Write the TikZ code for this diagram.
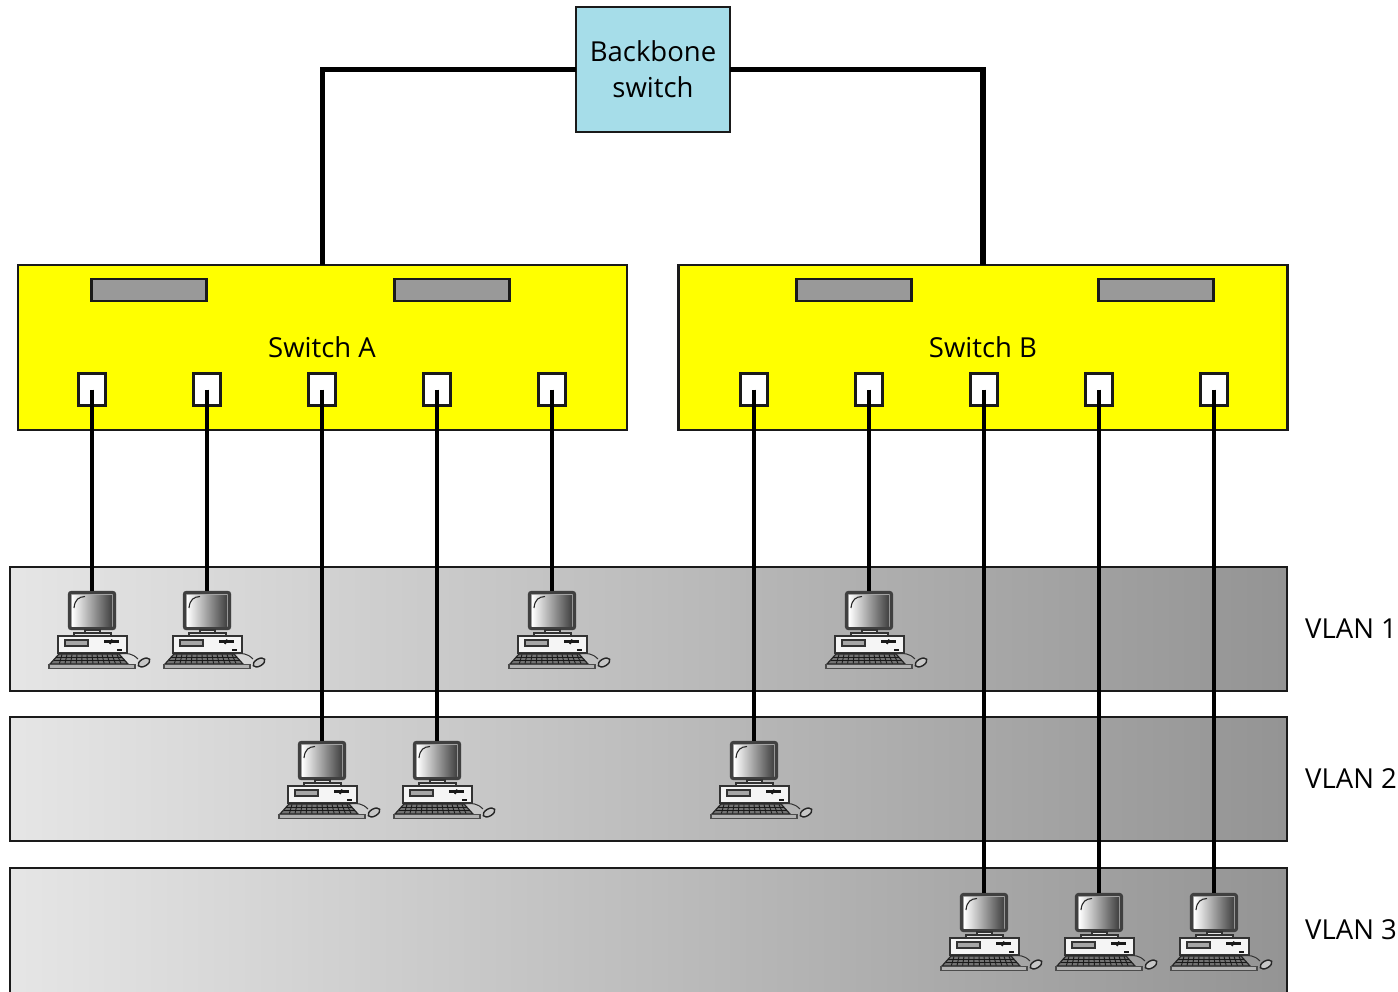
\documentclass[tikz,border=0pt]{standalone}
\usepackage{fontspec}
\setmainfont{Open Sans}
\definecolor{bbblue}{HTML}{A6DDE9}
\definecolor{swyellow}{HTML}{FFFF00}
\definecolor{bargray}{HTML}{999999}
\definecolor{edgegray}{HTML}{1A1A1A}
\tikzset{
  box/.style={draw=edgegray,line width=2.4pt,inner sep=0pt,outer sep=0pt,rectangle},
  strip/.style={box,minimum width=1277pt,left color=black!10,right color=black!42},
  switchbox/.style={box,fill=swyellow,minimum width=609pt,minimum height=165pt},
  backbone/.style={box,fill=bbblue,minimum width=154pt,minimum height=125pt,align=center,font=\fontsize{27.5}{36}\selectfont},
  bar/.style={box,fill=bargray,minimum width=115pt,minimum height=22pt},
  port/.style={box,line width=2.6pt,fill=white,minimum width=27pt,minimum height=32pt},
  lbl/.style={inner sep=0pt,font=\fontsize{27.5}{34}\selectfont},
  wire/.style={draw=black,line width=3.4pt},
  trunk/.style={draw=black,line width=5.4pt},
  pc/.pic={
    \coordinate (-top) at (0,0);
    % monitor
    \path[fill=black!30,rounded corners=1.5pt] (-24,0) rectangle (24,39);
    \draw[black!75,line width=3.2pt,rounded corners=2pt] (-22.5,1.5) rectangle (22.5,37.5);
    \path[left color=white,right color=black!75] (-20,4) rectangle (20,35);
    \draw[black!85,line width=1.1pt] (-18,17) .. controls (-17,8) and (-13,6) .. (-7,5.5);
    % stand
    \draw[black!80,line width=1.2pt,fill=black!10] (-7,39) rectangle (8,42);
    \draw[black!80,line width=1.2pt,fill=black!10] (-18,42) rectangle (19,45);
    % base
    \draw[black!80,line width=1.5pt,fill=black!4] (-34,45) rectangle (35,62);
    \draw[black!80,line width=1.2pt,fill=black!35] (-27,49) rectangle (-4,55);
    \draw[black!90,line width=2.2pt] (12,50.5) -- (27,50.5);
    \draw[black!90,line width=1.8pt] (20,48.5) -- (18,53);
    \fill[black!90] (25,60) rectangle (30,57.5);
    % keyboard
    \draw[black!85,line width=1.2pt,fill=black!55] (-33,63) -- (27,63) -- (36,73) -- (-42,73) -- cycle;
    \foreach \k in {-30,-25,...,25}
      \draw[black!90,line width=.9pt] (\k,63.5) -- (\k*1.12+1,72.5);
    \draw[black!90,line width=.9pt] (-36,66.5) -- (30,66.5);
    \draw[black!90,line width=.9pt] (-38,69.5) -- (33,69.5);
    \draw[black!70,line width=1.6pt,fill=black!30] (-43,73.5) -- (43,73.5) -- (43,77.5) -- (-43,77.5) -- cycle;
    % mouse
    \draw[black!80,line width=1pt] (27,63) .. controls (35,62) and (40,62) .. (46,68);
    \draw[black!85,line width=1.4pt,fill=black!22,rotate around={30:(52,71.5)}] (52,71.5) ellipse (6.5pt and 3.6pt);
  }
}
\begin{document}
\begin{tikzpicture}[x=1pt,y=-1pt]
\useasboundingbox (0,0) rectangle (1398,992);
\clip (0,0) rectangle (1398,992);
\fill[white] (0,0) rectangle (1398,992);

\node[strip,minimum height=124pt] (v1) at (648.5,629) {};
\node[strip,minimum height=124pt] (v2) at (648.5,779) {};
\node[strip,minimum height=144pt] (v3) at (648.5,940) {};
\node[lbl,anchor=west] (l1) at (1305,629) {VLAN 1};
\node[lbl,anchor=west] (l2) at (1305,779) {VLAN 2};
\node[lbl,anchor=west] (l3) at (1305,930) {VLAN 3};

\node[backbone] (bb) at (653,69.5) {Backbone\\switch};
\node[switchbox] (swA) at (322.5,347.5) {};
\node[switchbox] (swB) at (983,347.5) {};
\draw[trunk] (bb.west) -| (swA.north);
\draw[trunk] (bb.east) -| (swB.north);
\node[lbl] (tA) at (322,347) {Switch A};
\node[lbl] (tB) at (983,347) {Switch B};

\node[bar] (barA1) at (149,290) {};
\node[bar] (barA2) at (452,290) {};
\node[bar] (barB1) at (854,290) {};
\node[bar] (barB2) at (1156,290) {};

\foreach \n/\x in {a1/92,a2/207,a3/322,a4/437,a5/552,b1/754,b2/869,b3/984,b4/1099,b5/1214}
  \node[port] (p\n) at (\x,389.5) {};

\pic (ca1) at (92,591) {pc};
\pic (ca2) at (207,591) {pc};
\pic (ca5) at (552,591) {pc};
\pic (cb2) at (869,591) {pc};
\pic (ca3) at (322,741) {pc};
\pic (ca4) at (437,741) {pc};
\pic (cb1) at (754,741) {pc};
\pic (cb3) at (984,893) {pc};
\pic (cb4) at (1099,893) {pc};
\pic (cb5) at (1214,893) {pc};

\foreach \n in {a1,a2,a3,a4,a5,b1,b2,b3,b4,b5}
  \draw[wire] (p\n.center) -- (c\n-top);
\end{tikzpicture}
\end{document}
